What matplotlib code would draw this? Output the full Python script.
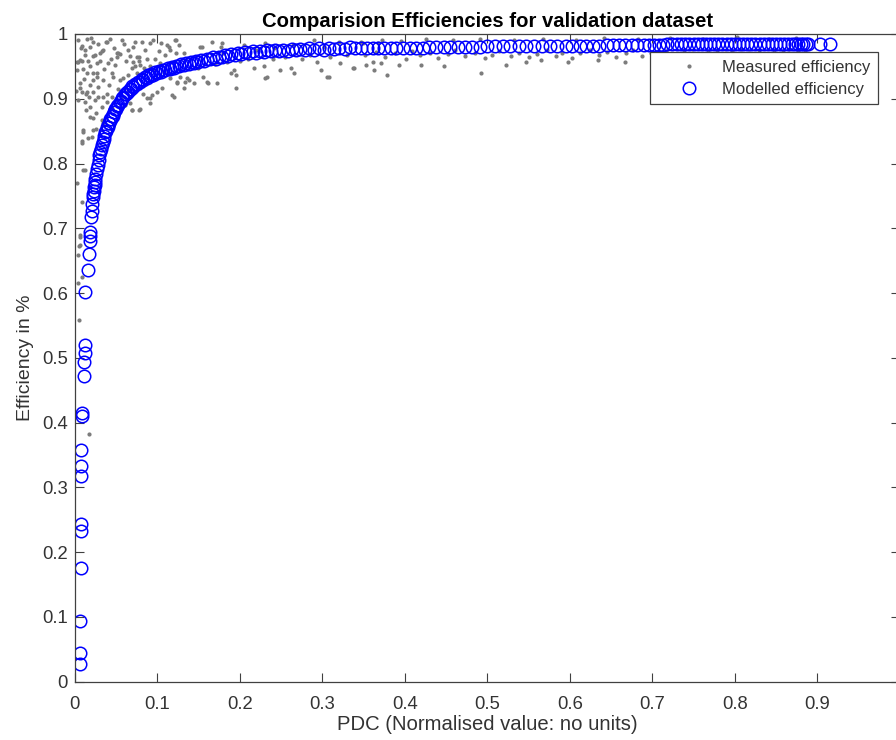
import matplotlib
matplotlib.use("Agg")
import matplotlib.pyplot as plt

plt.rcParams['font.family'] = ['Liberation Sans', 'DejaVu Sans']

# Modelled efficiency (blue circles)
mod_pdc = [
    0.006, 0.006, 0.006, 0.007, 0.007, 0.007, 0.008, 0.008, 0.008, 0.009,
    0.009, 0.011, 0.011, 0.012, 0.012, 0.013, 0.016, 0.017, 0.018, 0.018,
    0.019, 0.020, 0.021, 0.0215, 0.022, 0.0225, 0.023, 0.0235, 0.024, 0.0245,
    0.025, 0.026, 0.027, 0.028, 0.029, 0.030, 0.031, 0.032, 0.033, 0.034,
    0.035, 0.036, 0.038, 0.040, 0.042, 0.044, 0.046, 0.048, 0.050, 0.053,
    0.056, 0.059, 0.062, 0.065, 0.068, 0.071, 0.075, 0.079, 0.083, 0.087,
    0.091, 0.095, 0.100, 0.105, 0.110, 0.115, 0.120, 0.126, 0.132, 0.138,
    0.144, 0.150, 0.157, 0.164, 0.171, 0.178, 0.186, 0.194, 0.202, 0.211,
    0.220, 0.229, 0.238, 0.248, 0.258, 0.268, 0.279, 0.290, 0.302, 0.314,
    0.327, 0.340, 0.354, 0.368, 0.383, 0.398, 0.414, 0.430, 0.447, 0.464,
    0.482, 0.500, 0.519, 0.538, 0.557, 0.576, 0.595, 0.612, 0.628, 0.645,
    0.660, 0.675, 0.690, 0.702, 0.713, 0.724, 0.735, 0.745, 0.755, 0.765,
    0.775, 0.785, 0.795, 0.805, 0.815, 0.825, 0.835, 0.845, 0.855, 0.865,
    0.873, 0.880, 0.886, 0.903, 0.915]
mod_eff = [
    0.027, 0.045, 0.093, 0.175, 0.232, 0.243, 0.317, 0.333, 0.357, 0.410,
    0.415, 0.472, 0.493, 0.507, 0.520, 0.601, 0.636, 0.661, 0.681, 0.688,
    0.694, 0.718, 0.727, 0.738, 0.748, 0.753, 0.758, 0.763, 0.767, 0.772,
    0.776, 0.784, 0.791, 0.798, 0.805, 0.813, 0.818, 0.823, 0.828, 0.833,
    0.838, 0.842, 0.850, 0.857, 0.863, 0.869, 0.874, 0.879, 0.884, 0.890,
    0.896, 0.902, 0.907, 0.911, 0.915, 0.918, 0.922, 0.926, 0.929, 0.932,
    0.935, 0.937, 0.940, 0.942, 0.944, 0.946, 0.948, 0.950, 0.952, 0.954,
    0.955, 0.957, 0.959, 0.961, 0.962, 0.964, 0.966, 0.967, 0.969, 0.970,
    0.971, 0.972, 0.973, 0.973, 0.974, 0.975, 0.975, 0.976, 0.976, 0.977,
    0.977, 0.978, 0.978, 0.978, 0.979, 0.979, 0.979, 0.980, 0.980, 0.980,
    0.980, 0.981, 0.981, 0.981, 0.982, 0.982, 0.982, 0.982, 0.982, 0.983,
    0.983, 0.983, 0.983, 0.983, 0.983, 0.984, 0.984, 0.984, 0.984, 0.984,
    0.984, 0.984, 0.984, 0.984, 0.984, 0.984, 0.984, 0.984, 0.984, 0.984,
    0.984, 0.984, 0.984, 0.985, 0.985]

# more modelled points where the circles overlap into a solid band
mod_pdc_dense = [
    0.037, 0.039, 0.041, 0.043, 0.045, 0.047, 0.049, 0.0515, 0.0545, 0.0575,
    0.0605, 0.0635, 0.0665, 0.0695, 0.073, 0.077, 0.081, 0.085, 0.089, 0.093,
    0.0975, 0.1025, 0.1075, 0.1125, 0.1175, 0.123, 0.129, 0.135, 0.141, 0.147,
    0.1535, 0.1605, 0.1675, 0.1745, 0.182, 0.190, 0.198, 0.2065, 0.2155, 0.2245,
    0.2335, 0.243, 0.253, 0.263, 0.2735, 0.2845, 0.296, 0.308, 0.3205, 0.3335,
    0.347, 0.361, 0.375, 0.390, 0.406, 0.422, 0.438, 0.455, 0.473, 0.491,
    0.509, 0.528, 0.547, 0.566, 0.585, 0.603, 0.620, 0.636, 0.652, 0.667,
    0.682, 0.696, 0.708, 0.718, 0.730, 0.740, 0.750, 0.760, 0.770, 0.780,
    0.790, 0.800, 0.810, 0.820, 0.830, 0.840, 0.850, 0.860, 0.869, 0.877,
    0.883, 0.889]
mod_eff_dense = [
    0.848, 0.856, 0.862, 0.868, 0.874, 0.879, 0.884, 0.889, 0.895, 0.901,
    0.907, 0.911, 0.915, 0.919, 0.922, 0.926, 0.930, 0.933, 0.936, 0.938,
    0.941, 0.943, 0.945, 0.947, 0.949, 0.951, 0.953, 0.955, 0.957, 0.958,
    0.960, 0.962, 0.964, 0.965, 0.967, 0.969, 0.970, 0.972, 0.973, 0.974,
    0.975, 0.975, 0.976, 0.977, 0.977, 0.978, 0.978, 0.979, 0.979, 0.980,
    0.978, 0.978, 0.978, 0.979, 0.979, 0.979, 0.980, 0.980, 0.980, 0.980,
    0.981, 0.981, 0.981, 0.982, 0.982, 0.982, 0.982, 0.982, 0.983, 0.983,
    0.983, 0.983, 0.983, 0.984, 0.984, 0.984, 0.984, 0.984, 0.984, 0.984,
    0.984, 0.984, 0.984, 0.984, 0.984, 0.984, 0.984, 0.984, 0.984, 0.984,
    0.984, 0.984]

# Measured efficiency (grey dots), (pdc, eff)
meas_low = [
    (0.0085, 0.834), (0.0105, 0.790), (0.0085, 0.741), (0.0064, 0.690),
    (0.0056, 0.672), (0.0044, 0.659), (0.0085, 0.625), (0.0064, 0.687),
    (0.0064, 0.674), (0.0044, 0.615), (0.0056, 0.558), (0.0178, 0.382),
    (0.0105, 0.852), (0.0207, 0.841), (0.0125, 0.790), (0.0165, 0.839),
    (0.0105, 0.849), (0.0226, 0.852), (0.0259, 0.854), (0.0085, 0.831),
    (0.0030, 0.770)]

meas_knee = [
    (0.0226, 0.988), (0.038, 0.987), (0.0733, 0.987), (0.0814, 0.988),
    (0.0915, 0.986), (0.112, 0.983), (0.123, 0.990), (0.126, 0.983),
    (0.116, 0.975), (0.102, 0.973), (0.123, 0.970), (0.110, 0.968),
    (0.0044, 0.957), (0.0085, 0.959), (0.0219, 0.966), (0.0307, 0.970),
    (0.034, 0.975), (0.051, 0.970), (0.055, 0.969), (0.0753, 0.964),
    (0.0773, 0.959), (0.0712, 0.957), (0.0793, 0.952), (0.0693, 0.947),
    (0.0915, 0.950), (0.0976, 0.962), (0.1036, 0.955), (0.0146, 0.939),
    (0.0226, 0.939), (0.0267, 0.934), (0.0348, 0.929), (0.045, 0.939),
    (0.0469, 0.934), (0.055, 0.929), (0.059, 0.932), (0.065, 0.937),
    (0.0753, 0.939), (0.0955, 0.944), (0.1077, 0.942), (0.1158, 0.932),
    (0.128, 0.934), (0.134, 0.926), (0.138, 0.929), (0.124, 0.924),
    (0.118, 0.906), (0.132, 0.916), (0.0064, 0.924), (0.0186, 0.921),
    (0.0085, 0.911), (0.0137, 0.908), (0.0226, 0.911), (0.0287, 0.903),
    (0.0389, 0.908), (0.045, 0.903), (0.0389, 0.895), (0.051, 0.898),
    (0.059, 0.903), (0.0611, 0.890), (0.0693, 0.883), (0.0773, 0.883),
    (0.0875, 0.901), (0.0936, 0.906), (0.0996, 0.911), (0.1057, 0.916),
    (0.0044, 0.898), (0.0125, 0.895), (0.0247, 0.898), (0.0186, 0.888),
    (0.0328, 0.888), (0.045, 0.885), (0.055, 0.888), (0.0672, 0.893),
    (0.0186, 0.872), (0.0226, 0.870), (0.0328, 0.867), (0.0348, 0.862),
    (0.0389, 0.987), (0.0328, 0.973), (0.0064, 0.960), (0.0024, 0.957),
    (0.0247, 0.968), (0.0186, 0.950), (0.0267, 0.939), (0.0064, 0.916),
    (0.0226, 0.929), (0.0146, 0.911), (0.0348, 0.903), (0.051, 0.965),
    (0.053, 0.970), (0.0773, 0.965), (0.0733, 0.950), (0.0834, 0.947),
    (0.120, 0.903), (0.0915, 0.901), (0.079, 0.884), (0.069, 0.883),
    (0.0915, 0.893), (0.004, 0.990), (0.009, 0.982), (0.012, 0.975),
    (0.015, 0.992), (0.018, 0.980), (0.028, 0.984), (0.043, 0.992),
    (0.047, 0.978), (0.060, 0.985), (0.064, 0.975), (0.003, 0.945),
    (0.010, 0.946), (0.013, 0.968), (0.016, 0.958), (0.040, 0.955),
    (0.044, 0.962), (0.027, 0.955), (0.062, 0.958), (0.085, 0.975),
    (0.095, 0.990), (0.007, 0.978), (0.020, 0.994), (0.031, 0.958),
    (0.036, 0.946), (0.049, 0.952), (0.057, 0.990), (0.067, 0.966),
    (0.071, 0.980), (0.088, 0.962), (0.011, 0.930), (0.017, 0.902),
    (0.028, 0.918), (0.041, 0.921), (0.052, 0.915), (0.064, 0.912),
    (0.083, 0.908), (0.002, 0.912), (0.014, 0.882), (0.026, 0.878)]

meas_mid = [
    (0.136, 0.932), (0.144, 0.924), (0.124, 0.926), (0.156, 0.934),
    (0.160, 0.926), (0.173, 0.924), (0.195, 0.916), (0.189, 0.939),
    (0.193, 0.944), (0.185, 0.957), (0.217, 0.947), (0.229, 0.950),
    (0.231, 0.932), (0.249, 0.944), (0.262, 0.947), (0.266, 0.939),
    (0.294, 0.957), (0.298, 0.944), (0.306, 0.934), (0.322, 0.955),
    (0.339, 0.947), (0.104, 0.986), (0.114, 0.980), (0.122, 0.991),
    (0.132, 0.970), (0.152, 0.980), (0.166, 0.988), (0.177, 0.980),
    (0.205, 0.983), (0.231, 0.986), (0.241, 0.978), (0.290, 0.991),
    (0.302, 0.980), (0.154, 0.980), (0.179, 0.986), (0.162, 0.924),
    (0.195, 0.937), (0.233, 0.934), (0.308, 0.934), (0.150, 0.948),
    (0.170, 0.953), (0.200, 0.958), (0.210, 0.962), (0.240, 0.962),
    (0.255, 0.965), (0.275, 0.962), (0.285, 0.968), (0.310, 0.965),
    (0.330, 0.968), (0.220, 0.975), (0.265, 0.983), (0.320, 0.988),
    (0.180, 0.970)]

meas_high = [
    (0.337, 0.947), (0.363, 0.944), (0.379, 0.937), (0.393, 0.952),
    (0.420, 0.952), (0.448, 0.950), (0.492, 0.940), (0.523, 0.952),
    (0.547, 0.957), (0.565, 0.960), (0.598, 0.957), (0.634, 0.960),
    (0.667, 0.957), (0.353, 0.952), (0.361, 0.957), (0.371, 0.955),
    (0.347, 0.988), (0.349, 0.986), (0.367, 0.986), (0.352, 0.968),
    (0.365, 0.972), (0.376, 0.965), (0.388, 0.970), (0.401, 0.962),
    (0.409, 0.974), (0.418, 0.967), (0.431, 0.971), (0.440, 0.963),
    (0.452, 0.969), (0.461, 0.975), (0.473, 0.966), (0.485, 0.971),
    (0.497, 0.963), (0.506, 0.968), (0.514, 0.974), (0.529, 0.966),
    (0.538, 0.971), (0.551, 0.964), (0.560, 0.969), (0.572, 0.975),
    (0.583, 0.966), (0.591, 0.971), (0.603, 0.963), (0.612, 0.970),
    (0.624, 0.975), (0.636, 0.967), (0.645, 0.972), (0.656, 0.964),
    (0.668, 0.970), (0.677, 0.975), (0.688, 0.966), (0.698, 0.971),
    (0.706, 0.968), (0.717, 0.974), (0.728, 0.969), (0.739, 0.976),
    (0.748, 0.971), (0.757, 0.965), (0.768, 0.972), (0.779, 0.976),
    (0.788, 0.970), (0.797, 0.974), (0.808, 0.977), (0.817, 0.971),
    (0.829, 0.975), (0.838, 0.969), (0.847, 0.976), (0.858, 0.972),
    (0.866, 0.977), (0.877, 0.973), (0.885, 0.976), (0.372, 0.991),
    (0.395, 0.989), (0.426, 0.993), (0.458, 0.990), (0.491, 0.992),
    (0.532, 0.990), (0.568, 0.993), (0.607, 0.991), (0.641, 0.994),
    (0.683, 0.992), (0.722, 0.994), (0.761, 0.992), (0.803, 0.995),
    (0.842, 0.993), (0.874, 0.994), (0.826, 0.962), (0.831, 0.966),
    (0.742, 0.964), (0.701, 0.962)]

ticks = [0, 0.1, 0.2, 0.3, 0.4, 0.5, 0.6, 0.7, 0.8, 0.9, 1]
tick_labels = ['0', '0.1', '0.2', '0.3', '0.4', '0.5', '0.6', '0.7', '0.8', '0.9', '1']

meas = meas_low + meas_knee + meas_mid + meas_high
meas_pdc = [p for p, e in meas]
meas_eff = [e for p, e in meas]

fig = plt.figure(figsize=(8.96, 7.40), dpi=100)
ax = fig.add_axes([0.0834, 0.0788, 0.9208, 0.8753])

ax.plot(meas_pdc, meas_eff, '.', color='#7c7c7c', markersize=4,
        label='Measured efficiency')
ax.plot(mod_pdc + mod_pdc_dense, mod_eff + mod_eff_dense, 'o', color='#0000ff',
        markerfacecolor='none', markersize=9, markeredgewidth=1.1,
        label='Modelled efficiency')

ax.set_xlim(0, 1)
ax.set_ylim(0, 1)
ax.set_xticks(ticks)
ax.set_xticklabels(tick_labels)
ax.set_yticks(ticks)
ax.set_yticklabels(tick_labels)

ax.tick_params(direction='in', length=6.5, width=0.8, top=True, right=True,
               labelsize=13.3, colors='#404040', labelcolor='#333333', pad=5)
ax.tick_params(axis='x', pad=10)
for s in ax.spines.values():
    s.set_color('#404040')
    s.set_linewidth(0.9)

ax.set_xlabel('PDC (Normalised value: no units)', fontsize=14.6,
              color='#333333', labelpad=2)
ax.set_ylabel('Efficiency in %', fontsize=14, color='#333333', labelpad=6)
ax.set_title('Comparision Efficiencies for validation dataset', fontsize=14.6,
             fontweight='bold', color='black', pad=5)

leg = ax.legend(loc='upper right', bbox_to_anchor=(0.974, 0.972),
                borderaxespad=0, fontsize=12, fancybox=False, framealpha=1,
                edgecolor='#404040', handletextpad=0.1, borderpad=0.45,
                labelspacing=0.42, handlelength=3.8)
leg.get_frame().set_linewidth(0.9)
for t in leg.get_texts():
    t.set_color('#333333')

fig.savefig('out.png', dpi=100)
